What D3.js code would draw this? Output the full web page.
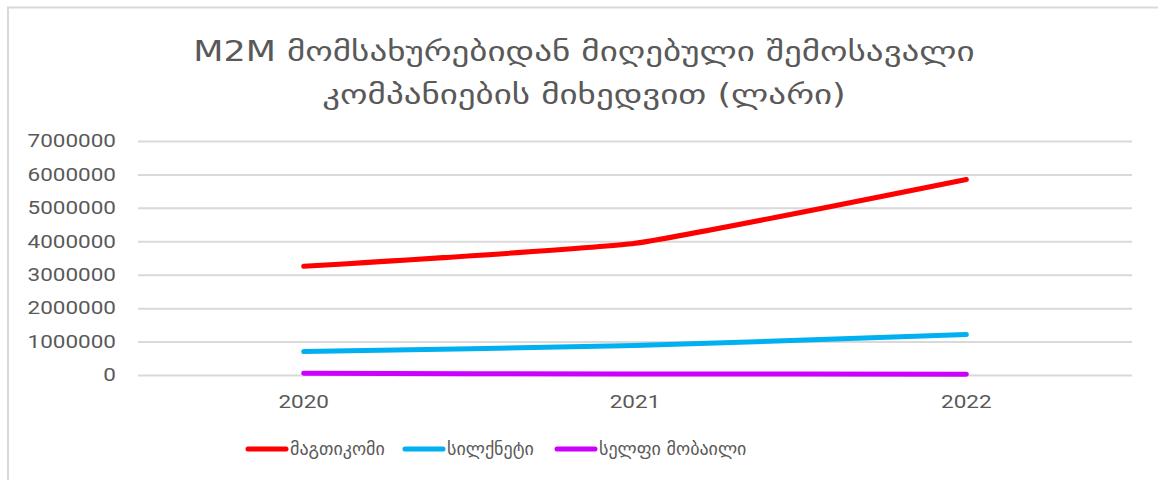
<!DOCTYPE html>
<html>
<head>
<meta charset="utf-8">
<script src="https://cdn.jsdelivr.net/npm/d3@7"></script>
<style>
  body { margin: 0; background: #fff; }
  text { fill: #595959; }
</style>
</head>
<body>
<div id="chart"></div>
<script>
(function(){
    const years = ['2020', '2021', '2022'];
    const seriesNames = ['მაგთიკომი', 'სილქნეტი', 'სელფი მობაილი'];
    const magticom = [3250000, 3940000, 5850000];
    const silknet = [700000, 880000, 1210000];
    const selfie = [50000, 30000, 25000];
    const colors = ['#ff0000', '#00b0f0', '#cc00ff'];
    const yTicks = [0, 1000000, 2000000, 3000000, 4000000, 5000000, 6000000, 7000000];

    const series = [magticom, silknet, selfie].map((vals, i) => ({
        name: seriesNames[i],
        color: colors[i],
        values: vals.map((v, j) => ({ year: years[j], value: v }))
    }));

    const fullWidth = 1158;
    const fullHeight = 480;
    const margin = { top: 141, left: 138, bottom: 105, right: 26 };
    const width = fullWidth - margin.left - margin.right;
    const height = fullHeight - margin.top - margin.bottom;

    // the source picture is stretched sideways, so text gets widened
    const stretch = 1.25;
    const widen = (sel, anchorX) => sel.attr('transform', function() {
        const x = anchorX != null ? anchorX : +(d3.select(this).attr('x') || 0);
        return `translate(${x},0) scale(${stretch},1) translate(${-x},0)`;
    });

    const root = d3.select('#chart')
        .append('svg')
            .attr('width', fullWidth)
            .attr('height', fullHeight);

    // outer frame (top and left edges only show)
    root.append('path')
        .attr('d', 'M8,480 L8,7.5 L1158,7.5')
        .attr('fill', 'none')
        .attr('stroke', '#d9d9d9')
        .attr('stroke-width', 2);

    const title = root.append('text')
        .attr('text-anchor', 'middle')
        .style('font-family', '"DejaVu Sans", sans-serif')
        .style('font-size', '28px');
    title.selectAll('tspan')
        .data(['M2M მომსახურებიდან მიღებული შემოსავალი', 'კომპანიების მიხედვით (ლარი)'])
        .enter()
        .append('tspan')
            .attr('x', 584)
            .attr('y', (d, i) => 61 + i * 43)
            .text(d => d);
    widen(title, 584);

    const svg = root.append('g')
        .attr('transform', `translate(${margin.left}, ${margin.top})`);

    const yScale = d3.scaleLinear()
        .domain([0, 7000000])
        .range([height, 0]);

    const xScale = d3.scaleBand()
        .domain(years)
        .range([0, width]);

    const yAxis = d3.axisLeft(yScale)
        .tickValues(yTicks)
        .tickSize(-width)
        .tickPadding(22)
        .tickFormat(d3.format('d'));

    svg.append('g')
        .call(yAxis)
        .call(g => g.select('.domain').remove())
        .call(g => g.selectAll('line').attr('stroke', '#d9d9d9').attr('stroke-width', 2))
        .call(g => widen(g.selectAll('text')
            .attr('fill', '#595959')
            .style('font-family', 'Roboto, "Liberation Sans", sans-serif')
            .style('font-size', '18px')));

    const xAxis = d3.axisBottom(xScale)
        .tickSize(0)
        .tickPadding(20);

    svg.append('g')
            .attr('transform', `translate(0, ${height})`)
        .call(xAxis)
        .call(g => g.select('.domain').remove())
        .call(g => widen(g.selectAll('text')
            .attr('fill', '#595959')
            .style('font-family', 'Roboto, "Liberation Sans", sans-serif')
            .style('font-size', '18px')));

    const line = d3.line()
        .x(d => xScale(d.year) + xScale.bandwidth() / 2)
        .y(d => yScale(d.value))
        .curve(d3.curveCardinal.tension(0.65));

    svg.selectAll('.series')
        .data(series)
        .enter()
        .append('path')
            .attr('class', 'series')
            .attr('d', d => line(d.values))
            .attr('fill', 'none')
            .attr('stroke', d => d.color)
            .attr('stroke-width', 5)
            .attr('stroke-linecap', 'round')
            .attr('stroke-linejoin', 'round');

    // legend
    const legendX = [248, 405, 557];
    const legend = root.append('g')
        .attr('transform', 'translate(0, 449)');

    const items = legend.selectAll('g')
        .data(series)
        .enter()
        .append('g')
            .attr('transform', (d, i) => `translate(${legendX[i]}, 0)`);

    items.append('line')
        .attr('x1', 0)
        .attr('x2', 38)
        .attr('stroke', d => d.color)
        .attr('stroke-width', 5)
        .attr('stroke-linecap', 'round');

    items.append('text')
        .attr('x', 42)
        .attr('dy', '0.35em')
        .style('font-family', '"DejaVu Sans", sans-serif')
        .style('font-size', '18px')
        .text(d => d.name);
}())
</script>
</body>
</html>
